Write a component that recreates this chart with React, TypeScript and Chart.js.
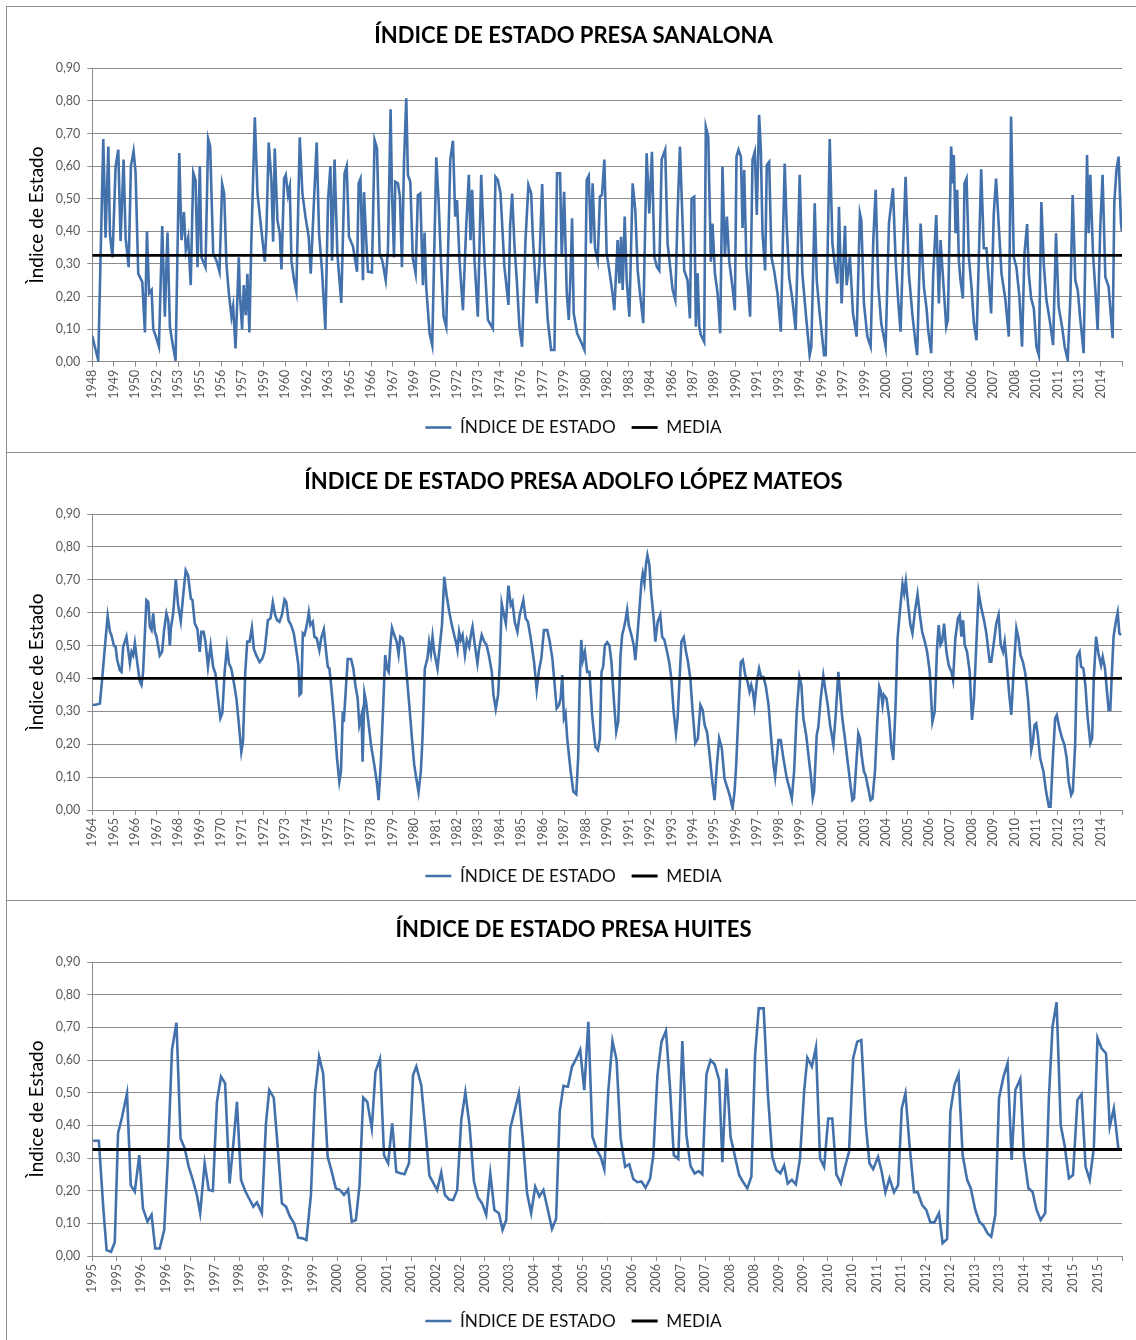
import React, { useEffect, useRef } from 'react';
import { Chart, registerables } from 'chart.js';

Chart.register(...registerables);

// ---------- data ----------
const yTickLabels = ['0,00', '0,10', '0,20', '0,30', '0,40', '0,50', '0,60', '0,70', '0,80', '0,90'];

const seriesLabel = 'ÍNDICE DE ESTADO';
const meanLabel = 'MEDIA';

// Sanalona: monthly series, one axis label every 17 months
const sanalonaTicks = ['1948', '1949', '1950', '1952', '1953', '1955', '1956', '1957', '1959', '1960', '1962', '1963', '1965', '1966', '1967', '1969', '1970', '1972', '1973', '1974', '1976', '1977', '1979', '1980', '1982', '1983', '1984', '1986', '1987', '1989', '1990', '1991', '1993', '1994', '1996', '1997', '1999', '2000', '2001', '2003', '2004', '2006', '2007', '2008', '2010', '2011', '2013', '2014'];
const sanalonaMean = 0.326;
// [month index, value]
const sanalonaPoints: [number, number][] = [
  [0, 0.079], [2, 0.046], [4.7, 0.005], [8.7, 0.683], [10.5, 0.38], [12.7, 0.66], [14, 0.39], [16, 0.32], [18.5, 0.6], [20.6, 0.65],
  [22.4, 0.37], [24.8, 0.62], [26.4, 0.38], [28.8, 0.29], [30.6, 0.6], [32.7, 0.646], [34.3, 0.58], [36.4, 0.27], [39.6, 0.245], [41.7, 0.09],
  [43.3, 0.4], [45, 0.21], [47, 0.22], [48.3, 0.1], [50.4, 0.077], [52.8, 0.046], [55.4, 0.416], [57.5, 0.138], [59.6, 0.396], [61.5, 0.107],
  [63.6, 0.056], [66, 0.003], [68.9, 0.64], [70.7, 0.373], [72.6, 0.46], [74.1, 0.343], [76, 0.38], [78, 0.235], [80, 0.58], [81.8, 0.557],
  [83.4, 0.29], [85.2, 0.6], [86.5, 0.32], [89.7, 0.29], [91.8, 0.684], [93.4, 0.66], [95.8, 0.332], [98.4, 0.31], [100.8, 0.276], [102.9, 0.545],
  [104.5, 0.516], [106.3, 0.3], [108.2, 0.21], [110.3, 0.138], [111.6, 0.17], [113.5, 0.041], [116.1, 0.32], [116.9, 0.21], [118.7, 0.1], [120, 0.235],
  [121.6, 0.143], [122.9, 0.27], [124.5, 0.09], [126, 0.363], [128.8, 0.75], [130.9, 0.516], [134, 0.404], [136.7, 0.307], [138, 0.404], [139.8, 0.672],
  [141.9, 0.557], [143.3, 0.368], [144.6, 0.654], [146.7, 0.435], [148.5, 0.394], [149.9, 0.283], [152, 0.562], [153.3, 0.573], [155.1, 0.511], [156.5, 0.537],
  [157.8, 0.31], [159.9, 0.25], [161.7, 0.215], [164.4, 0.688], [166.5, 0.516], [168.9, 0.445], [171.5, 0.383], [173.1, 0.27], [175.7, 0.496], [177.8, 0.672],
  [179.7, 0.394], [182, 0.281], [184.7, 0.1], [186.8, 0.496], [188.7, 0.6], [190, 0.31], [192, 0.62], [194.2, 0.332], [197.3, 0.18], [199.9, 0.578],
  [201.6, 0.6], [203.4, 0.383], [206.6, 0.353], [209.8, 0.276], [211.1, 0.547], [212.5, 0.561], [214.5, 0.25], [215.3, 0.52], [217.2, 0.363], [218.5, 0.276],
  [221.6, 0.274], [223.7, 0.68], [225.6, 0.654], [227.7, 0.332], [229.8, 0.31], [232.5, 0.25], [234.3, 0.343], [236.4, 0.774], [237.5, 0.516], [239.1, 0.32],
  [240.1, 0.552], [242.2, 0.547], [243.8, 0.506], [245.4, 0.29], [247, 0.61], [248.8, 0.808], [250.1, 0.573], [252, 0.552], [254, 0.317], [256.2, 0.271],
  [258, 0.511], [259.9, 0.516], [262, 0.235], [263.3, 0.396], [264.6, 0.23], [267.3, 0.087], [269.4, 0.05], [272.6, 0.627], [274.4, 0.496], [276.5, 0.29],
  [278.4, 0.138], [280.5, 0.107], [283.7, 0.62], [285.8, 0.678], [287.6, 0.445], [289, 0.496], [291, 0.31], [293.7, 0.158], [296.3, 0.414], [298.4, 0.573],
  [299.7, 0.373], [301, 0.527], [302.9, 0.31], [305.5, 0.138], [308.2, 0.573], [310.8, 0.31], [313.5, 0.128], [317.4, 0.102], [319.5, 0.567], [321.4, 0.557],
  [323.5, 0.516], [326.6, 0.29], [329.8, 0.174], [331.1, 0.414], [332.7, 0.516], [334.6, 0.353], [336.4, 0.25], [338.5, 0.107], [340.6, 0.046], [343.3, 0.373],
  [345.6, 0.542], [347.8, 0.516], [349.1, 0.383], [352.2, 0.179], [354.3, 0.3], [356.5, 0.545], [358.3, 0.31], [360.9, 0.128], [363.6, 0.036], [366.2, 0.036],
  [368.3, 0.578], [370.7, 0.578], [372, 0.322], [373.9, 0.521], [376, 0.21], [377.6, 0.128], [379.1, 0.281], [380.2, 0.44], [381.5, 0.148], [384.2, 0.087],
  [387.3, 0.061], [390, 0.036], [391.8, 0.557], [393.4, 0.57], [395.2, 0.363], [396.5, 0.547], [398.4, 0.348], [400.5, 0.31], [402.3, 0.506], [403.9, 0.511],
  [405.8, 0.62], [407.6, 0.332], [409.7, 0.28], [411.9, 0.22], [413.7, 0.158], [416.3, 0.373], [417.7, 0.24], [419, 0.383], [420.3, 0.22], [421.9, 0.445],
  [423.5, 0.25], [425.6, 0.138], [428.2, 0.547], [430.3, 0.465], [432.2, 0.28], [434, 0.21], [436.6, 0.118], [439.3, 0.639], [441.4, 0.455], [443.5, 0.644],
  [445.4, 0.322], [447.5, 0.29], [449.3, 0.28], [451.2, 0.62], [454, 0.65], [455.9, 0.363], [459.9, 0.22], [462, 0.19], [463.8, 0.455], [465.7, 0.66],
  [467.8, 0.424], [469.1, 0.28], [471.7, 0.25], [473.6, 0.133], [474.9, 0.5], [477, 0.506], [478.3, 0.107], [479.7, 0.271], [481, 0.107], [482.3, 0.082],
  [484.9, 0.061], [486.2, 0.72], [488.1, 0.69], [490.2, 0.307], [491.5, 0.424], [493.4, 0.271], [495.5, 0.21], [497.6, 0.087], [499.4, 0.598], [501.3, 0.322],
  [502.9, 0.445], [504.7, 0.31], [507.3, 0.23], [509.2, 0.158], [510.5, 0.629], [512.1, 0.65], [514, 0.629], [515.3, 0.41], [516.6, 0.588], [518.4, 0.29],
  [521.3, 0.138], [523.2, 0.62], [525, 0.644], [526.6, 0.45], [528.4, 0.757], [529.8, 0.65], [531.1, 0.394], [533.2, 0.28], [534.5, 0.603], [536.4, 0.613],
  [538.2, 0.322], [540.3, 0.28], [543, 0.21], [545.6, 0.092], [548.7, 0.608], [550.3, 0.414], [552.2, 0.26], [554.8, 0.19], [557.4, 0.097], [560.6, 0.573],
  [562.7, 0.271], [565.4, 0.148], [568.5, 0.02], [569.8, 0.046], [572.5, 0.486], [574.1, 0.25], [576.4, 0.148], [579.9, 0.02], [581.2, 0.02], [584.4, 0.683],
  [586.5, 0.363], [588.6, 0.29], [590.4, 0.24], [591.7, 0.475], [593.8, 0.179], [596.5, 0.417], [597.8, 0.235], [600.4, 0.322], [602.8, 0.148], [605.7, 0.077],
  [608.3, 0.455], [609.4, 0.435], [611.5, 0.179], [614.2, 0.077], [616.8, 0.046], [618.9, 0.373], [620.8, 0.527], [622.9, 0.23], [625.2, 0.118], [628.7, 0.046],
  [631.3, 0.424], [634.5, 0.532], [636.6, 0.31], [638.4, 0.2], [640.5, 0.092], [642.6, 0.353], [644.5, 0.567], [647.1, 0.271], [649.8, 0.148], [652.4, 0.056],
  [653.7, 0.02], [656.4, 0.424], [659, 0.23], [661.1, 0.164], [662.4, 0.097], [664.8, 0.026], [666.4, 0.271], [668.8, 0.45], [670.9, 0.179], [672.2, 0.373],
  [674.8, 0.22], [676.7, 0.107], [678, 0.128], [680.6, 0.66], [681.9, 0.547], [682.7, 0.634], [684.1, 0.394], [685.4, 0.527], [686.7, 0.31], [688, 0.25],
  [689.9, 0.194], [691.2, 0.547], [692.8, 0.562], [694.6, 0.322], [696.7, 0.23], [698.6, 0.118], [700.7, 0.066], [702.5, 0.31], [704.4, 0.59], [706.5, 0.348],
  [708.6, 0.348], [710.4, 0.25], [712.3, 0.148], [714.4, 0.455], [716.2, 0.562], [718.4, 0.414], [720.5, 0.271], [723.6, 0.19], [726.3, 0.077], [728.1, 0.752],
  [730.2, 0.322], [732.3, 0.29], [734.7, 0.2], [736.8, 0.046], [738.7, 0.332], [740.8, 0.422], [742.1, 0.271], [744, 0.194], [746.1, 0.164], [748.2, 0.046],
  [750.1, 0.02], [752.1, 0.49], [754, 0.3], [756.1, 0.19], [758.7, 0.128], [761.4, 0.051], [763.7, 0.394], [765.8, 0.169], [768.5, 0.107], [770.6, 0.046],
  [773, 0.005], [775.1, 0.2], [776.9, 0.511], [779, 0.25], [780.9, 0.22], [783, 0.128], [785.6, 0.026], [788.3, 0.634], [789.6, 0.394], [790.9, 0.573],
  [793, 0.332], [794.9, 0.22], [796.7, 0.097], [798.8, 0.414], [800.6, 0.573], [802.8, 0.26], [805.4, 0.23], [808.6, 0.072], [809.9, 0.486], [811.6, 0.588],
  [813.3, 0.629], [815.2, 0.424], [816, 0.4],
];

// Adolfo López Mateos: monthly series, one axis label every 13 months
const adolfoTicks = ['1964', '1965', '1966', '1967', '1968', '1969', '1970', '1971', '1972', '1973', '1974', '1975', '1977', '1978', '1979', '1980', '1981', '1982', '1983', '1984', '1985', '1986', '1987', '1988', '1990', '1991', '1992', '1993', '1994', '1995', '1996', '1997', '1998', '1999', '2000', '2001', '2003', '2004', '2005', '2006', '2007', '2008', '2009', '2010', '2011', '2012', '2013', '2014'];
const adolfoMean = 0.4;
const adolfoPoints: [number, number][] = [
  [0, 0.319], [2.6, 0.321], [4.6, 0.324], [6, 0.4], [7.7, 0.5], [9.3, 0.59], [10.7, 0.542], [11.7, 0.53], [13.1, 0.5], [14.1, 0.496],
  [15.1, 0.456], [16.7, 0.425], [17.7, 0.42], [18.7, 0.496], [20.7, 0.527], [22.8, 0.446], [23.8, 0.481], [24.8, 0.47], [25.8, 0.507], [27.2, 0.45],
  [28.8, 0.39], [29.8, 0.38], [30.8, 0.42], [32.8, 0.638], [33.9, 0.633], [34.9, 0.557], [35.9, 0.547], [36.9, 0.598], [37.9, 0.542], [38.9, 0.527],
  [40.9, 0.47], [42.3, 0.481], [43.5, 0.547], [44.9, 0.598], [46, 0.577], [47, 0.5], [47.6, 0.552], [49, 0.598], [50.6, 0.702], [52, 0.623],
  [53.6, 0.574], [55.4, 0.669], [56.6, 0.729], [58, 0.714], [59.7, 0.643], [60.7, 0.638], [62.1, 0.567], [63.7, 0.55], [65.1, 0.481], [66.1, 0.542],
  [67.5, 0.542], [68.7, 0.507], [70.1, 0.436], [71.7, 0.5], [73.2, 0.436], [74.6, 0.415], [76.2, 0.34], [77.6, 0.279], [78.8, 0.294], [80.2, 0.42],
  [81.6, 0.496], [82.8, 0.446], [84.2, 0.43], [85.7, 0.39], [87.3, 0.34], [88.7, 0.268], [90.3, 0.177], [91.3, 0.208], [92.7, 0.42], [93.9, 0.512],
  [95.3, 0.512], [96.7, 0.554], [97.9, 0.49], [99.4, 0.47], [101.4, 0.45], [103, 0.46], [104.4, 0.481], [106.4, 0.577], [108, 0.583], [109.4, 0.631],
  [110.8, 0.593], [112, 0.577], [113.4, 0.572], [114.9, 0.593], [116.5, 0.64], [117.5, 0.633], [118.9, 0.577], [120.5, 0.562], [122.1, 0.537], [123.5, 0.491],
  [124.9, 0.44], [125.6, 0.35], [126.6, 0.355], [127.6, 0.537], [128.6, 0.532], [130, 0.562], [131.2, 0.601], [132.2, 0.562], [133.6, 0.572], [134.6, 0.527],
  [136, 0.522], [137.6, 0.486], [138.7, 0.522], [140.3, 0.549], [141.7, 0.481], [142.7, 0.436], [143.7, 0.43], [145.1, 0.36], [146.7, 0.268], [148.3, 0.157],
  [149.7, 0.086], [150.7, 0.117], [151.8, 0.3], [152.4, 0.268], [153.8, 0.38], [154.8, 0.459], [156.8, 0.459], [158.2, 0.43], [159.4, 0.38], [160.8, 0.34],
  [161.8, 0.258], [163.2, 0.289], [163.8, 0.147], [164.9, 0.355], [165.9, 0.329], [167.3, 0.268], [168.9, 0.198], [170.9, 0.137], [172.5, 0.081], [173.5, 0.03],
  [174.9, 0.147], [176.3, 0.319], [177.5, 0.471], [178.6, 0.43], [179.6, 0.42], [180.6, 0.5], [181.6, 0.554], [183, 0.532], [184.4, 0.512], [185.6, 0.473],
  [186.6, 0.527], [188, 0.522], [189, 0.5], [190.4, 0.42], [192.1, 0.319], [193.7, 0.218], [195.1, 0.137], [196.5, 0.091], [197.7, 0.054], [199.1, 0.117],
  [200.1, 0.218], [201.5, 0.43], [203.1, 0.461], [204.1, 0.51], [205.2, 0.476], [206.2, 0.527], [207.2, 0.481], [209.2, 0.43], [210.6, 0.5], [211.9, 0.562],
  [213.3, 0.709], [214.7, 0.653], [216.3, 0.603], [217.9, 0.562], [219.3, 0.532], [220.3, 0.512], [221.3, 0.486], [222.3, 0.542], [223.3, 0.517], [224.4, 0.532],
  [225.8, 0.471], [227, 0.517], [228.4, 0.496], [229.4, 0.532], [230.4, 0.557], [231.8, 0.502], [233.4, 0.446], [234.4, 0.491], [236, 0.532], [237.5, 0.512],
  [238.9, 0.502], [240.5, 0.466], [242.1, 0.42], [243.1, 0.35], [244.5, 0.307], [245.9, 0.35], [246.9, 0.44], [248.1, 0.628], [249.5, 0.593], [250.6, 0.567],
  [252.2, 0.682], [253.6, 0.623], [254.6, 0.633], [256, 0.572], [257.6, 0.542], [259, 0.593], [261.2, 0.638], [262.6, 0.583], [264, 0.572], [265.7, 0.522],
  [267.7, 0.45], [269.3, 0.365], [270.7, 0.425], [272.1, 0.461], [273.7, 0.547], [275.7, 0.547], [277.2, 0.512], [278.8, 0.461], [280.2, 0.38], [281.4, 0.309],
  [282.8, 0.319], [283.8, 0.339], [284.8, 0.41], [285.8, 0.279], [286.8, 0.294], [287.8, 0.218], [289.9, 0.117], [291.5, 0.056], [293.3, 0.048], [294.5, 0.167],
  [295.3, 0.37], [296.3, 0.517], [297.3, 0.456], [298.5, 0.481], [299.9, 0.42], [301.3, 0.42], [302.9, 0.289], [304.9, 0.192], [306.4, 0.182], [307.6, 0.218],
  [308.6, 0.42], [309.6, 0.436], [310.6, 0.5], [312, 0.51], [313.4, 0.5], [314.6, 0.45], [316, 0.339], [317.5, 0.238], [318.7, 0.268], [320.1, 0.471],
  [321.1, 0.532], [322.1, 0.552], [323.1, 0.577], [324.1, 0.608], [325.1, 0.562], [326.7, 0.532], [328.1, 0.502], [329.1, 0.456], [330.2, 0.522], [331.6, 0.613],
  [332.8, 0.694], [333.6, 0.719], [334.6, 0.689], [335.6, 0.75], [336.4, 0.775], [337.6, 0.745], [338.6, 0.664], [340.2, 0.583], [341.2, 0.512], [342.6, 0.572],
  [344.2, 0.593], [345.3, 0.527], [346.7, 0.517], [348.3, 0.481], [349.7, 0.446], [350.9, 0.4], [352.3, 0.299], [353.7, 0.233], [354.7, 0.279], [355.8, 0.39],
  [357, 0.512], [358.4, 0.525], [359.8, 0.481], [361, 0.45], [362.4, 0.4], [363.8, 0.299], [365.4, 0.203], [367, 0.218], [368.5, 0.319], [369.9, 0.304],
  [371.1, 0.258], [372.5, 0.238], [373.9, 0.177], [375.5, 0.096], [377.1, 0.03], [378.5, 0.137], [379.9, 0.218], [381.5, 0.187], [383.1, 0.096], [384.6, 0.071],
  [386.2, 0.046], [388, 0.005], [389.2, 0.056], [390.2, 0.137], [391.6, 0.299], [393, 0.45], [394.2, 0.456], [395.7, 0.41], [397.1, 0.39], [398.3, 0.36],
  [399.3, 0.38], [400.3, 0.36], [401.3, 0.319], [402.7, 0.39], [404.1, 0.43], [405.3, 0.405], [406.7, 0.405], [408.2, 0.375], [409.8, 0.319], [411.4, 0.218],
  [412.8, 0.137], [413.8, 0.101], [415.8, 0.213], [417.2, 0.213], [418.8, 0.157], [420.9, 0.096], [422.5, 0.066], [423.9, 0.035], [425.3, 0.117], [426.9, 0.299],
  [428.5, 0.405], [429.7, 0.38], [430.9, 0.279], [432.6, 0.228], [434, 0.167], [435.6, 0.096], [436.6, 0.037], [437.4, 0.056], [439, 0.228], [440, 0.253],
  [441.4, 0.339], [443, 0.408], [444.4, 0.36], [445.7, 0.319], [447.1, 0.258], [449.1, 0.198], [450.5, 0.289], [452.1, 0.42], [453.1, 0.36], [454.5, 0.279],
  [456.1, 0.218], [457.5, 0.157], [459.2, 0.086], [460.6, 0.03], [461.6, 0.035], [462.8, 0.127], [464.2, 0.233], [465.2, 0.218], [466.2, 0.167], [467.6, 0.117],
  [468.6, 0.106], [470.2, 0.066], [471.6, 0.03], [472.8, 0.035], [474.3, 0.117], [475.7, 0.268], [476.9, 0.375], [477.9, 0.36], [478.9, 0.319], [479.7, 0.35],
  [481.3, 0.339], [482.9, 0.279], [484.3, 0.187], [485.4, 0.152], [486.8, 0.319], [488, 0.522], [489.4, 0.603], [491, 0.687], [492, 0.659], [493, 0.696],
  [494.4, 0.623], [495.8, 0.562], [497, 0.537], [498.5, 0.603], [500.1, 0.656], [501.5, 0.593], [502.9, 0.542], [504.5, 0.512], [505.9, 0.481], [507.5, 0.42],
  [509.1, 0.268], [510.5, 0.299], [511.9, 0.491], [512.9, 0.562], [514, 0.502], [515, 0.512], [516.2, 0.567], [517.6, 0.481], [519, 0.44], [520.6, 0.42],
  [521.6, 0.395], [523, 0.522], [524.6, 0.583], [525.7, 0.593], [526.7, 0.527], [527.7, 0.577], [528.7, 0.502], [530.1, 0.481], [531.7, 0.42], [533.1, 0.274],
  [534.3, 0.339], [535.7, 0.502], [537.1, 0.662], [538.8, 0.613], [540.4, 0.577], [541.8, 0.537], [543.8, 0.451], [544.8, 0.451], [546.4, 0.512], [547.8, 0.567],
  [549.2, 0.593], [550.5, 0.502], [551.9, 0.481], [552.9, 0.512], [553.9, 0.461], [555.5, 0.36], [556.9, 0.289], [558.3, 0.42], [560, 0.552], [561.3, 0.522],
  [562.5, 0.471], [564, 0.45], [565.4, 0.415], [567, 0.339], [568, 0.268], [569, 0.182], [570, 0.208], [571, 0.258], [572, 0.263], [573, 0.228],
  [574.4, 0.157], [576.4, 0.117], [578, 0.056], [579.7, 0.01], [580.7, 0.01], [582.1, 0.157], [583.5, 0.279], [584.5, 0.289], [586.1, 0.248], [587.7, 0.218],
  [589.1, 0.198], [590.5, 0.157], [591.7, 0.086], [593.2, 0.046], [594.2, 0.056], [595.6, 0.198], [596.8, 0.466], [598.3, 0.481], [599.2, 0.436], [600.6, 0.43],
  [601.8, 0.38], [603.2, 0.279], [604.8, 0.203], [605.9, 0.218], [606.9, 0.4], [608.3, 0.527], [609.7, 0.476], [611.3, 0.44], [612.3, 0.466], [613.7, 0.43],
  [614.9, 0.36], [615.9, 0.304], [616.9, 0.304], [617.9, 0.42], [618.9, 0.527], [620.4, 0.577], [621.4, 0.601], [622.4, 0.537], [623.4, 0.532],
];

// Huites: monthly series, one axis label every 6 months
const huitesTicks = ['1995', '1995', '1996', '1996', '1997', '1997', '1998', '1998', '1999', '1999', '2000', '2000', '2001', '2001', '2002', '2002', '2003', '2003', '2004', '2004', '2005', '2005', '2006', '2006', '2007', '2007', '2008', '2008', '2009', '2009', '2010', '2010', '2011', '2011', '2012', '2012', '2013', '2013', '2014', '2014', '2015', '2015'];
const huitesMean = 0.326;
const huitesPoints: [number, number][] = [
  [0.2, 0.353], [1.6, 0.353], [2.7, 0.146], [3.5, 0.018], [4.6, 0.013], [5.5, 0.042], [6.3, 0.376], [7.2, 0.421], [7.8, 0.457], [8.5, 0.498],
  [9.4, 0.217], [10.4, 0.197], [11.5, 0.309], [12.4, 0.146], [13.5, 0.105], [14.5, 0.126], [15.4, 0.023], [16.5, 0.023], [17.6, 0.08], [18.5, 0.299],
  [19.5, 0.631], [20.6, 0.714], [21.6, 0.36], [22.6, 0.33], [23.6, 0.273], [24.6, 0.233], [25.6, 0.187], [26.4, 0.131], [27.5, 0.284], [28.5, 0.202],
  [29.5, 0.199], [30.5, 0.472], [31.5, 0.549], [32.5, 0.529], [33.6, 0.222], [34.6, 0.355], [35.4, 0.472], [36.4, 0.233], [37.5, 0.197], [38.5, 0.173],
  [39.4, 0.151], [40.3, 0.164], [41.5, 0.131], [42.5, 0.406], [43.3, 0.508], [44.4, 0.485], [45.4, 0.33], [46.4, 0.161], [47.4, 0.151], [48.4, 0.12],
  [49.4, 0.1], [50.4, 0.056], [51.5, 0.054], [52.4, 0.049], [53.5, 0.187], [54.5, 0.498], [55.5, 0.61], [56.5, 0.559], [57.6, 0.304], [58.5, 0.263],
  [59.6, 0.207], [60.6, 0.202], [61.6, 0.187], [62.6, 0.204], [63.5, 0.105], [64.5, 0.11], [65.4, 0.217], [66.3, 0.485], [67.3, 0.472], [68.4, 0.39],
  [69.3, 0.564], [70.4, 0.603], [71.4, 0.309], [72.4, 0.284], [73.4, 0.406], [74.4, 0.258], [75.4, 0.253], [76.4, 0.25], [77.5, 0.284], [78.5, 0.554],
  [79.3, 0.58], [80.5, 0.523], [81.5, 0.39], [82.5, 0.246], [84.4, 0.202], [85.4, 0.256], [86.3, 0.187], [87.3, 0.173], [88.3, 0.171], [89.3, 0.202],
  [90.3, 0.416], [91.3, 0.501], [92.3, 0.401], [93.4, 0.228], [94.4, 0.179], [95.4, 0.161], [96.4, 0.126], [97.4, 0.253], [98.4, 0.141], [99.5, 0.131],
  [100.4, 0.08], [101.3, 0.11], [102.3, 0.391], [103.4, 0.447], [104.4, 0.498], [105.4, 0.35], [106.4, 0.192], [107.4, 0.131], [108.4, 0.212], [109.4, 0.182],
  [110.4, 0.202], [111.4, 0.146], [112.5, 0.083], [113.5, 0.113], [114.4, 0.442], [115.3, 0.521], [116.4, 0.518], [117.4, 0.58], [118.3, 0.6], [119.4, 0.631],
  [120.4, 0.508], [121.4, 0.717], [122.4, 0.365], [123.5, 0.324], [124.4, 0.304], [125.3, 0.265], [126.3, 0.508], [127.3, 0.658], [128.3, 0.6], [129.3, 0.36],
  [130.4, 0.273], [131.4, 0.281], [132.4, 0.236], [133.4, 0.226], [134.4, 0.228], [135.4, 0.209], [136.5, 0.236], [137.3, 0.309], [138.3, 0.554], [139.3, 0.656],
  [140.4, 0.689], [141.4, 0.513], [142.3, 0.309], [143.4, 0.297], [144.4, 0.658], [145.4, 0.37], [146.4, 0.276], [147.4, 0.253], [148.4, 0.26], [149.3, 0.25],
  [150.3, 0.556], [151.3, 0.6], [152.3, 0.587], [153.4, 0.539], [154.2, 0.287], [155.2, 0.574], [156.2, 0.365], [157.2, 0.309], [158.3, 0.248], [159.2, 0.228],
  [160.3, 0.207], [161.3, 0.243], [162.2, 0.615], [163.1, 0.758], [164.3, 0.758], [165.3, 0.503], [166.4, 0.304], [167.4, 0.263], [168.4, 0.253], [169.3, 0.277],
  [170.2, 0.222], [171.2, 0.233], [172.2, 0.219], [173.2, 0.299], [174.2, 0.503], [175, 0.607], [176.1, 0.58], [177.1, 0.639], [178.1, 0.299], [179.1, 0.273],
  [180.1, 0.421], [181.1, 0.421], [182.1, 0.25], [183.2, 0.222], [184.1, 0.268], [185.2, 0.319], [186.2, 0.605], [187.2, 0.656], [188.2, 0.661], [189.3, 0.401],
  [190.2, 0.284], [191.1, 0.266], [192.3, 0.304], [193.2, 0.258], [194.1, 0.195], [195.1, 0.238], [196.2, 0.195], [197.2, 0.217], [198.1, 0.452], [199, 0.498],
  [200, 0.34], [201.1, 0.195], [202, 0.195], [203.1, 0.156], [204.1, 0.141], [205.1, 0.103], [206.1, 0.103], [207.2, 0.131], [208.1, 0.039], [209.2, 0.052],
  [210, 0.442], [211, 0.523], [212, 0.556], [213, 0.309], [214.1, 0.233], [215, 0.207], [216.1, 0.141], [217.1, 0.105], [218.1, 0.093], [219.1, 0.069],
  [220, 0.059], [221, 0.126], [221.9, 0.483], [223, 0.549], [224, 0.59], [225, 0.294], [225.9, 0.508], [227.1, 0.542], [228, 0.309], [229.1, 0.207],
  [230.1, 0.197], [231.1, 0.141], [232.1, 0.11], [233.2, 0.131], [234.1, 0.483], [235, 0.702], [236, 0.777], [237, 0.401], [238, 0.335], [239, 0.238],
  [240, 0.248], [241.1, 0.478], [242.1, 0.495], [243.1, 0.273], [244.1, 0.233], [245.1, 0.33], [246, 0.668], [247, 0.636], [248.1, 0.62], [249, 0.396],
  [250, 0.452], [251.1, 0.33],
];

// ---------- style / layout ----------
const BLUE = '#4371AB';
const GRID = '#8C8C8C';
const FONT = 'Lato, "Open Sans", sans-serif';

type PanelDef = {
  title: string;
  ticks: string[];
  step: number;
  points: [number, number][];
  mean: number;
  top: number;
  boxHeight: number;
  chartTop: number;
  chartBottom: number;
  legendCenter: number;
  titleCenter: number;
};

const CANVAS_LEFT = 7;
const CANVAS_W = 1133;
const Y_AXIS_W = 85.3;
const RIGHT_RESERVE = 16.7;
const TITLE_SIZE = 22;
const LEGEND_SIZE = 17.2;
const LEGEND_PAD = 16;
const LEGEND_LINE_W = 26;

const panels: PanelDef[] = [
  { title: 'ÍNDICE DE ESTADO PRESA SANALONA', ticks: sanalonaTicks, step: 17, points: sanalonaPoints, mean: sanalonaMean, top: 6, boxHeight: 446, chartTop: 62.3, chartBottom: 355.7, legendCenter: 421.5, titleCenter: 29.5 },
  { title: 'ÍNDICE DE ESTADO PRESA ADOLFO LÓPEZ MATEOS', ticks: adolfoTicks, step: 13, points: adolfoPoints, mean: adolfoMean, top: 452, boxHeight: 448, chartTop: 62, chartBottom: 358, legendCenter: 424, titleCenter: 29.5 },
  { title: 'ÍNDICE DE ESTADO PRESA HUITES', ticks: huitesTicks, step: 6, points: huitesPoints, mean: huitesMean, top: 900, boxHeight: 450, chartTop: 62, chartBottom: 356, legendCenter: 421, titleCenter: 29.5 },
];

function Panel({ def }: { def: PanelDef }) {
  const ref = useRef<HTMLCanvasElement>(null);
  const legendTop = def.legendCenter - LEGEND_PAD - LEGEND_SIZE / 2;
  const legendH = LEGEND_SIZE + LEGEND_PAD + 10;
  const canvasH = Math.ceil(legendTop + legendH);
  const xAxisH = legendTop - def.chartBottom;
  const titleLH = TITLE_SIZE * 1.2;
  const xMax = def.ticks.length * def.step;

  useEffect(() => {
    const canvas = ref.current;
    if (!canvas) return;
    const chart = new Chart(canvas, {
      type: 'line',
      data: {
        datasets: [
          {
            label: seriesLabel,
            data: def.points.map(([x, y]) => ({ x, y })),
            borderColor: BLUE,
            backgroundColor: BLUE,
            borderWidth: 2.6,
            pointRadius: 0,
            pointHoverRadius: 0,
            pointBorderWidth: 2.6,
            pointBorderColor: BLUE,
            pointBackgroundColor: BLUE,
            tension: 0,
            xAxisID: 'x',
            yAxisID: 'y',
            order: 1,
          },
          {
            label: meanLabel,
            data: [{ x: 0, y: def.mean }, { x: xMax, y: def.mean }],
            borderColor: '#000000',
            backgroundColor: '#000000',
            borderWidth: 2.8,
            pointRadius: 0,
            pointHoverRadius: 0,
            pointBorderWidth: 2.8,
            pointBorderColor: '#000000',
            pointBackgroundColor: '#000000',
            tension: 0,
            xAxisID: 'x',
            yAxisID: 'y',
            order: 0,
          },
        ],
      },
      options: {
        animation: false,
        responsive: false,
        maintainAspectRatio: false,
        events: [],
        layout: { padding: { top: 0, left: 0, right: 0, bottom: canvasH - legendTop - legendH } },
        plugins: {
          tooltip: { enabled: false },
          title: {
            display: true,
            text: def.title,
            color: '#000000',
            font: { family: FONT, size: TITLE_SIZE, weight: 'bold' },
            padding: { top: def.titleCenter - titleLH / 2, bottom: def.chartTop - def.titleCenter - titleLH / 2 },
          },
          legend: {
            display: true,
            position: 'bottom',
            align: 'center',
            labels: {
              usePointStyle: true,
              pointStyle: 'line',
              pointStyleWidth: LEGEND_LINE_W,
              padding: LEGEND_PAD,
              color: '#111111',
              font: { family: FONT, size: LEGEND_SIZE },
              sort: (a: any, b: any) => a.datasetIndex - b.datasetIndex,
            },
          },
        },
        scales: {
          x: {
            type: 'linear',
            position: 'bottom',
            min: 0,
            max: xMax,
            afterFit: (s: any) => { s.height = xAxisH; },
            ticks: {
              stepSize: def.step,
              autoSkip: false,
              minRotation: 90,
              maxRotation: 90,
              padding: 3,
              color: '#595959',
              font: { family: FONT, size: 12.5 },
              callback: (v: any) => {
                const k = Math.round(Number(v) / def.step);
                if (Math.abs(k * def.step - Number(v)) > 1e-6) return '';
                return def.ticks[k] ?? '';
              },
            },
            grid: { display: true, drawOnChartArea: false, drawTicks: true, tickLength: 5, color: GRID, lineWidth: 1 },
            border: { display: true, color: GRID, width: 1 },
          },
          y: {
            type: 'linear',
            position: 'left',
            min: 0,
            max: 0.9,
            afterFit: (s: any) => { s.width = Y_AXIS_W; },
            ticks: {
              stepSize: 0.1,
              padding: 7,
              color: '#595959',
              font: { family: FONT, size: 12.5 },
              callback: (_v: any, i: number) => yTickLabels[i] ?? '',
            },
            grid: { display: true, color: GRID, lineWidth: 1, drawTicks: true, tickLength: 5 },
            border: { display: true, color: GRID, width: 1 },
            title: {
              display: true,
              text: 'Ìndice de Estado',
              color: '#000000',
              font: { family: FONT, size: 19 },
              padding: { top: 30 - (19 * 1.2) / 2, bottom: 0 },
            },
          },
          yR: {
            type: 'linear',
            position: 'right',
            display: true,
            afterFit: (s: any) => { s.width = RIGHT_RESERVE; },
            ticks: { display: false },
            grid: { display: false, drawTicks: false },
            border: { display: false },
          },
        },
      } as any,
    });
    return () => chart.destroy();
  }, []);

  return (
    <>
      <div
        style={{
          position: 'absolute',
          left: 6,
          top: def.top,
          width: 1200,
          height: def.boxHeight,
          borderTop: `1px solid ${GRID}`,
          borderLeft: `1px solid ${GRID}`,
          boxSizing: 'border-box',
        }}
      />
      <canvas
        ref={ref}
        width={CANVAS_W}
        height={canvasH}
        style={{ position: 'absolute', left: CANVAS_LEFT, top: def.top, width: CANVAS_W, height: canvasH }}
      />
    </>
  );
}

export default function App() {
  return (
    <div
      style={{
        position: 'absolute',
        left: 0,
        top: 0,
        width: 1136,
        height: 1340,
        overflow: 'hidden',
        background: '#ffffff',
      }}
    >
      {panels.map((p, i) => (
        <Panel key={i} def={p} />
      ))}
    </div>
  );
}
